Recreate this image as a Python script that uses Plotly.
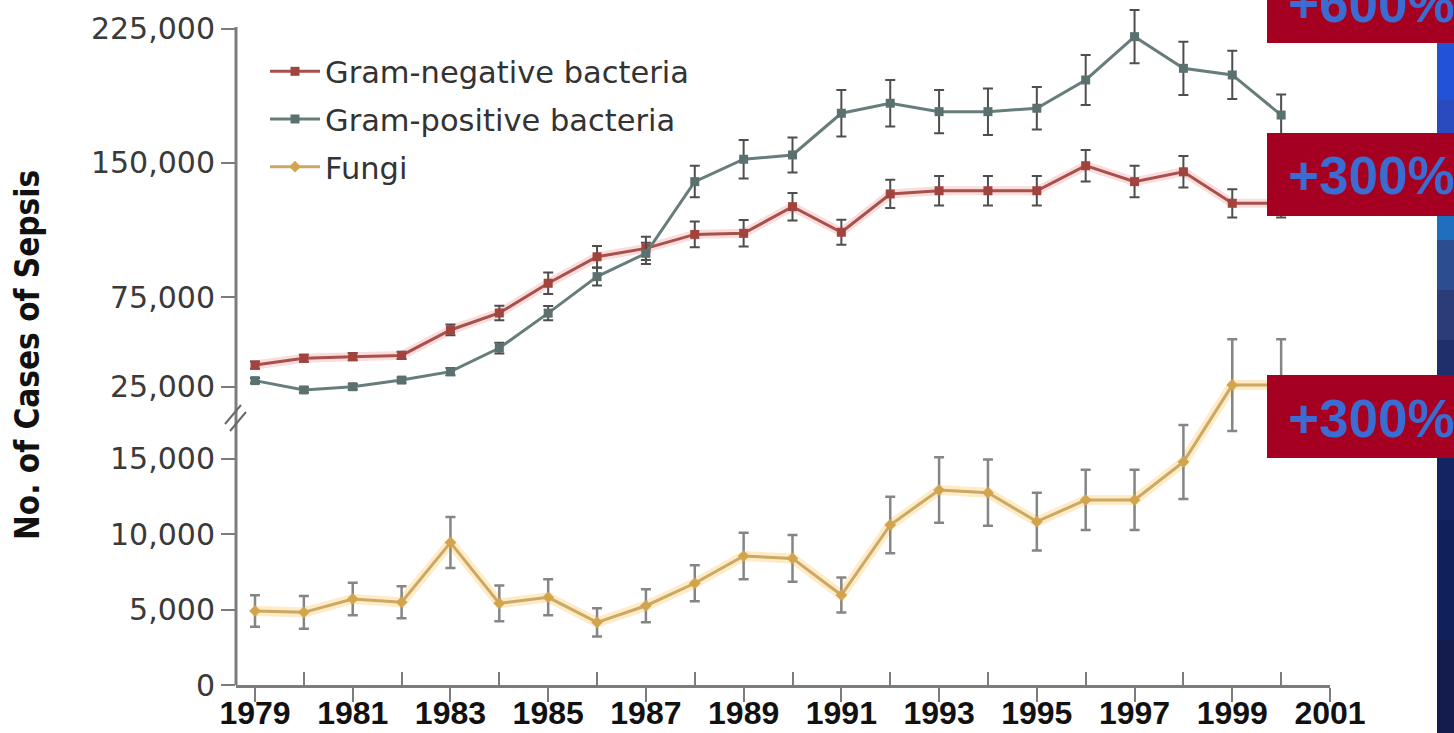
import plotly.graph_objects as go

# ---------------- data ----------------
years = list(range(1979, 2001))

gram_negative = [37000, 40800, 41700, 42400, 56600, 66100, 82700, 97500, 102200, 110000, 110600,
                 125500, 111200, 132600, 134400, 134400, 134400, 148400, 139500, 145000, 127400, 127400]
gram_negative_err = [2000, 2000, 2000, 2000, 3000, 4000, 6000, 6000, 6500, 7200, 7400,
                     7700, 7000, 7900, 8300, 8300, 8300, 8800, 8800, 8800, 7900, 7900]

gram_positive = [28300, 23100, 24900, 28600, 33300, 46500, 66000, 86400, 99400, 139500, 152000,
                 154400, 177700, 183300, 178600, 178600, 180500, 196300, 220500, 202800, 199100, 176700]
gram_positive_err = [1500, 1500, 1500, 1500, 2000, 3000, 4000, 5000, 6000, 8800, 10700,
                     9800, 13000, 13000, 12100, 13000, 11900, 14000, 14900, 14900, 13500, 11500]

fungi = [4910, 4820, 5710, 5490, 9450, 5420, 5820, 4160, 5260, 6750, 8560,
         8400, 5970, 10620, 12940, 12760, 10840, 12280, 12280, 14800, 19900, 19900]
fungi_err = [1050, 1080, 1080, 1060, 1690, 1190, 1190, 940, 1100, 1200, 1550,
             1550, 1160, 1880, 2170, 2200, 1910, 2000, 2000, 2450, 3050, 3050]

series_names = ["Gram-negative bacteria", "Gram-positive bacteria", "Fungi"]
upper_ticks = [25000, 75000, 150000, 225000]
lower_ticks = [0, 5000, 10000, 15000]
year_ticks = list(range(1979, 2002, 2))
year_minor = list(range(1980, 2001, 2))
badges = ["+600%", "+300%", "+300%"]
y_title = "No. of Cases of Sepsis"

# ---------------- layout geometry (screen pixels) ----------------
W, H = 1454, 733
PL, PR, PT, PB = 236, 1330, 0, 685
PW, PH = PR - PL, PB - PT


def px(x):
    return (x - PL) / PW


def py(y):
    return (PB - y) / PH


# upper (broken) axis: linear fit of tick pixels
up_slope = 1.7896 / 1000.0
up_mid_v, up_mid_p = 118750, 218.75


def up_val(p):
    return up_mid_v + (up_mid_p - p) / up_slope


lo_slope = 15.07 / 1000.0


def lo_val(p):
    return (PB - p) / lo_slope


UP_BOTTOM_PX = 415
LO_TOP_PX = 330

x0 = 1979 - (255 - PL) / ((PR - 255) / 22.0)

RED = "#a8504b"
GRAY = "#667d7b"
GOLD = "#caa866"
AXIS = "#7c7c7c"

fig = go.Figure()

# glow traces
fig.add_trace(go.Scatter(x=years, y=gram_negative, yaxis="y2", mode="lines",
                         line=dict(color="rgba(235,130,130,0.28)", width=9),
                         showlegend=False, hoverinfo="skip"))
fig.add_trace(go.Scatter(x=years, y=fungi, yaxis="y", mode="lines",
                         line=dict(color="rgba(255,205,110,0.40)", width=10),
                         showlegend=False, hoverinfo="skip"))

fig.add_trace(go.Scatter(
    x=years, y=gram_negative, yaxis="y2", mode="lines+markers", name=series_names[0],
    legendgroup="a",
    line=dict(color=RED, width=3),
    marker=dict(symbol="square", size=9, color="#a3433e"),
    error_y=dict(type="data", array=gram_negative_err, color="#4e4e4e", thickness=2, width=5),
    cliponaxis=False))
fig.add_trace(go.Scatter(
    x=years, y=gram_positive, yaxis="y2", mode="lines+markers", name=series_names[1],
    legendgroup="b",
    line=dict(color=GRAY, width=3),
    marker=dict(symbol="square", size=9, color="#5b716f"),
    error_y=dict(type="data", array=gram_positive_err, color="#4e4e4e", thickness=2, width=5),
    cliponaxis=False))
fig.add_trace(go.Scatter(
    x=years, y=fungi, yaxis="y", mode="lines+markers", name=series_names[2],
    legendgroup="c",
    line=dict(color=GOLD, width=3),
    marker=dict(symbol="diamond", size=9, color="#d2a44e"),
    error_y=dict(type="data", array=fungi_err, color="#858585", thickness=2.5, width=5),
    cliponaxis=False))

shapes = []
# y axis line
shapes.append(dict(type="line", xref="paper", yref="paper", x0=0, x1=0,
                   y0=0, y1=py(27), line=dict(color=AXIS, width=3), layer="above"))
# break marks
for (a, b, c, d) in [(225, 424, 241, 405), (230, 431, 246, 412)]:
    shapes.append(dict(type="line", xref="paper", yref="paper",
                       x0=px(a), y0=py(b), x1=px(c), y1=py(d),
                       line=dict(color="#6a6a6a", width=2), layer="above"))

# right blue strip (slide background)
strip = [(43, "#2252d8"), (100, "#2a4bbf"), (133, "#2456c6"), (160, "#1c80da"),
         (200, "#206fbf"), (240, "#2a4e90"), (290, "#2a3d79"), (340, "#1f2f6c"),
         (420, "#142462"), (520, "#10205a"), (640, "#141c4d"), (740, "#161a45")]
for i in range(len(strip) - 1):
    ya, ca = strip[i]
    yb, _ = strip[i + 1]
    shapes.append(dict(type="rect", xref="paper", yref="paper",
                       x0=px(1437), x1=px(1460), y0=py(yb), y1=py(ya),
                       fillcolor=ca, line=dict(width=0), layer="above"))

# red badges
badge_boxes = [(-20, 43), (133, 216), (375, 458)]
badge_text_y = [4, 176, 418]
annotations = []
for (t, b), ty, txt in zip(badge_boxes, badge_text_y, badges):
    shapes.append(dict(type="rect", xref="paper", yref="paper",
                       x0=px(1267), x1=px(1460), y0=py(b), y1=py(t),
                       fillcolor="#a50021", line=dict(width=0), layer="above"))
    annotations.append(dict(text=txt, xref="paper", yref="paper", x=px(1286), y=py(ty),
                            xanchor="left", yanchor="middle", showarrow=False,
                            font=dict(family="Liberation Sans, Arial, sans-serif", size=53,
                                      color="#3a6cd2", weight="bold")))

annotations.append(dict(text="<b>" + y_title + "</b>", xref="paper", yref="paper",
                        x=px(28), y=py(355), xanchor="center", yanchor="middle",
                        textangle=-90, showarrow=False,
                        font=dict(family="DejaVu Sans Condensed, sans-serif",
                                  size=33, color="#111111")))

tick_font = dict(family="DejaVu Sans, sans-serif", size=30, color="#3a3a3a")

fig.update_layout(
    width=W, height=H,
    margin=dict(l=PL, r=W - PR, t=PT, b=H - PB, autoexpand=False),
    paper_bgcolor="white", plot_bgcolor="rgba(0,0,0,0)",
    showlegend=True,
    legend=dict(x=px(265), y=py(45), xanchor="left", yanchor="top",
                bgcolor="rgba(0,0,0,0)", itemwidth=50, tracegroupgap=5,
                font=dict(family="DejaVu Sans, sans-serif", size=30.5, color="#333333")),
    xaxis=dict(range=[x0, 2001], anchor="y", showgrid=False, zeroline=False, automargin=False,
               showline=True, linecolor=AXIS, linewidth=3,
               tickmode="array", tickvals=year_ticks, ticks="outside", ticklen=14,
               tickwidth=2, tickcolor=AXIS, ticklabelstandoff=-16,
               tickfont=dict(family="Liberation Sans, Arial, sans-serif",
                             size=32, color="#111111", weight="bold"),
               minor=dict(tickmode="array", tickvals=year_minor, ticks="inside", ticklen=13,
                          tickwidth=2, tickcolor=AXIS)),
    yaxis=dict(domain=[0, py(LO_TOP_PX)], range=[0, lo_val(LO_TOP_PX)], anchor="x",
               showgrid=False, zeroline=False, showline=False, automargin=False,
               tickmode="array", tickvals=lower_ticks, tickformat=",d",
               ticks="outside", ticklen=14, tickwidth=2, tickcolor=AXIS,
               tickfont=tick_font),
    yaxis2=dict(domain=[py(UP_BOTTOM_PX), 1], range=[up_val(UP_BOTTOM_PX), up_val(PT)], anchor="x",
                showgrid=False, zeroline=False, showline=False, automargin=False,
                tickmode="array", tickvals=upper_ticks, tickformat=",d",
                ticks="outside", ticklen=14, tickwidth=2, tickcolor=AXIS,
                tickfont=tick_font),
    shapes=shapes,
    annotations=annotations,
)

fig.write_html("out.html",
               config={"displayModeBar": False},
               post_script="document.body.style.margin='0';document.body.style.overflow='hidden';")
